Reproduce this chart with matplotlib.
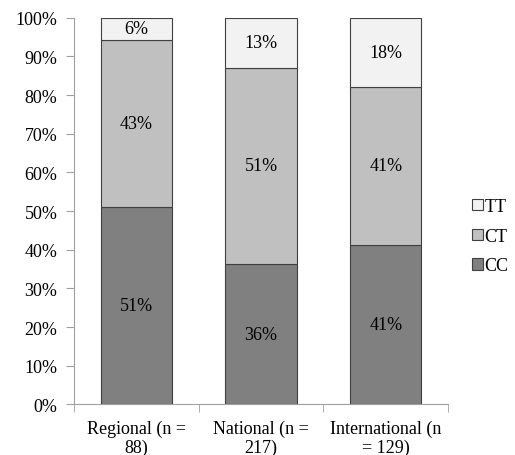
import matplotlib.pyplot as plt
import numpy as np

# genotype share per group (%)
groups = ['Regional (n =\n88)', 'National (n =\n217)', 'International (n\n= 129)']
cc = [51.1, 36.4, 41.1]
ct = [43.2, 50.7, 41.1]
tt = [5.7, 12.9, 17.8]

plt.rcParams['font.family'] = ['Liberation Serif', 'DejaVu Serif']
plt.rcParams['font.size'] = 13

fig = plt.figure(figsize=(5.15, 4.56), dpi=100)
ax = fig.add_axes([0.1437, 0.111, 0.7263, 0.848])

x = np.arange(len(groups))
w = 0.57
edge = '#404040'
series = [('CC', cc, '#808080'), ('CT', ct, '#c0c0c0'), ('TT', tt, '#f2f2f2')]
bottom = np.zeros(len(groups))
handles = []
for name, vals, col in series:
    vals = np.array(vals)
    b = ax.bar(x, vals, w, bottom=bottom, color=col, edgecolor=edge, linewidth=0.8, label=name)
    handles.append(b)
    for xi, v, bt in zip(x, vals, bottom):
        ax.text(xi, bt + v / 2, '%d%%' % round(v), ha='center', va='center', color='black')
    bottom += vals

ax.set_xlim(-0.5, len(groups) - 0.5)
ax.set_ylim(0, 100)
ax.set_yticks(range(0, 101, 10))
ax.set_yticklabels(['%d%%' % v for v in range(0, 101, 10)])
ax.set_xticks(x)
ax.set_xticklabels(groups, linespacing=1.1)
ax.set_xticks(np.arange(-0.5, len(groups), 1.0), minor=True)
ax.tick_params(axis='x', which='major', length=0, pad=11)
ax.tick_params(axis='x', which='minor', length=6, color='#a0a0a0')
ax.tick_params(axis='y', length=6, color='#a0a0a0', pad=6)

for s in ['top', 'right']:
    ax.spines[s].set_visible(False)
for s in ['left', 'bottom']:
    ax.spines[s].set_color('#a0a0a0')

ax.legend(handles[::-1], ['TT', 'CT', 'CC'], loc='center left', bbox_to_anchor=(0.916, 0.48),
          bbox_transform=fig.transFigure, frameon=False, handlelength=0.6, handleheight=0.6,
          handletextpad=0.1, labelspacing=0.7, borderaxespad=0, borderpad=0)

fig.savefig('out.png', dpi=100)
